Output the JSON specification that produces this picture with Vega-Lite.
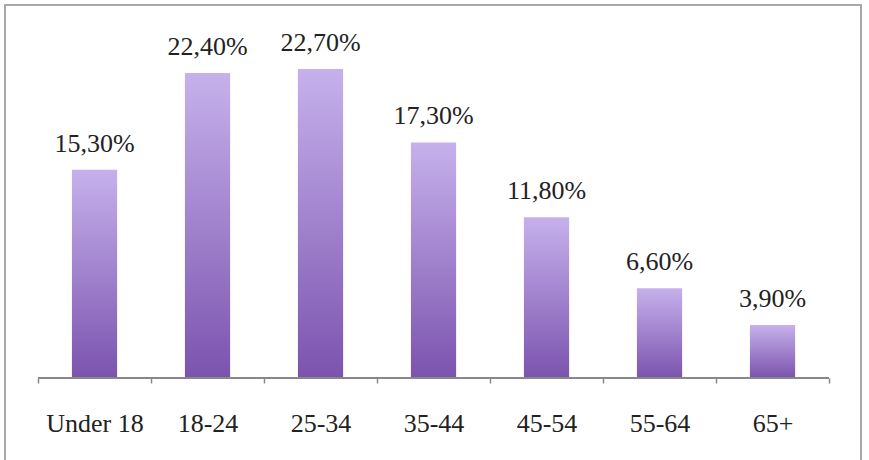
{
  "$schema": "https://vega.github.io/schema/vega-lite/v6.json",
  "width": 856,
  "height": 456,
  "autosize": "none",
  "padding": {"left": 5, "top": 5, "right": 8, "bottom": 0},
  "background": "white",
  "config": {
    "view": {"stroke": "#a8a8a8", "strokeWidth": 2},
    "font": "Liberation Serif"
  },
  "data": {
    "values": [
      {"age": "Under 18", "value": 15.3, "label": "15,30%"},
      {"age": "18-24", "value": 22.4, "label": "22,40%"},
      {"age": "25-34", "value": 22.7, "label": "22,70%"},
      {"age": "35-44", "value": 17.3, "label": "17,30%"},
      {"age": "45-54", "value": 11.8, "label": "11,80%"},
      {"age": "55-64", "value": 6.6, "label": "6,60%"},
      {"age": "65+", "value": 3.9, "label": "3,90%"}
    ]
  },
  "encoding": {
    "x": {
      "field": "age",
      "type": "nominal",
      "sort": null,
      "scale": {"paddingInner": 0, "paddingOuter": 0.2876, "align": 0.508},
      "axis": {
        "title": null,
        "orient": "bottom",
        "offset": -83,
        "domain": false,
        "grid": false,
        "ticks": true,
        "tickBand": "extent",
        "tickSize": 5,
        "tickColor": "#888888",
        "tickWidth": 1.5,
        "labelAngle": 0,
        "labelFont": "Liberation Serif",
        "labelFontSize": 26,
        "labelColor": "#222222",
        "labelBaseline": "alphabetic",
        "labelPadding": 48
      }
    },
    "y": {
      "field": "value",
      "type": "quantitative",
      "scale": {"domain": [-6.09, 27.39], "nice": false, "zero": false},
      "axis": null
    }
  },
  "layer": [
    {
      "mark": {
        "type": "bar",
        "width": {"band": 0.4},
        "color": {
          "gradient": "linear",
          "x1": 0, "y1": 0, "x2": 0, "y2": 1,
          "stops": [
            {"offset": 0, "color": "#c6b1ec"},
            {"offset": 1, "color": "#7b53ae"}
          ]
        }
      }
    },
    {
      "mark": {
        "type": "text",
        "baseline": "alphabetic",
        "dy": -18,
        "font": "Liberation Serif",
        "fontSize": 26,
        "color": "#222222"
      },
      "encoding": {"text": {"field": "label"}}
    },
    {
      "mark": {"type": "rule", "color": "#888888", "strokeWidth": 1.5},
      "encoding": {
        "x": {"datum": "Under 18", "type": "nominal", "bandPosition": 0},
        "x2": {"datum": "65+", "bandPosition": 1},
        "y": {"datum": 0, "type": "quantitative"}
      }
    }
  ]
}
